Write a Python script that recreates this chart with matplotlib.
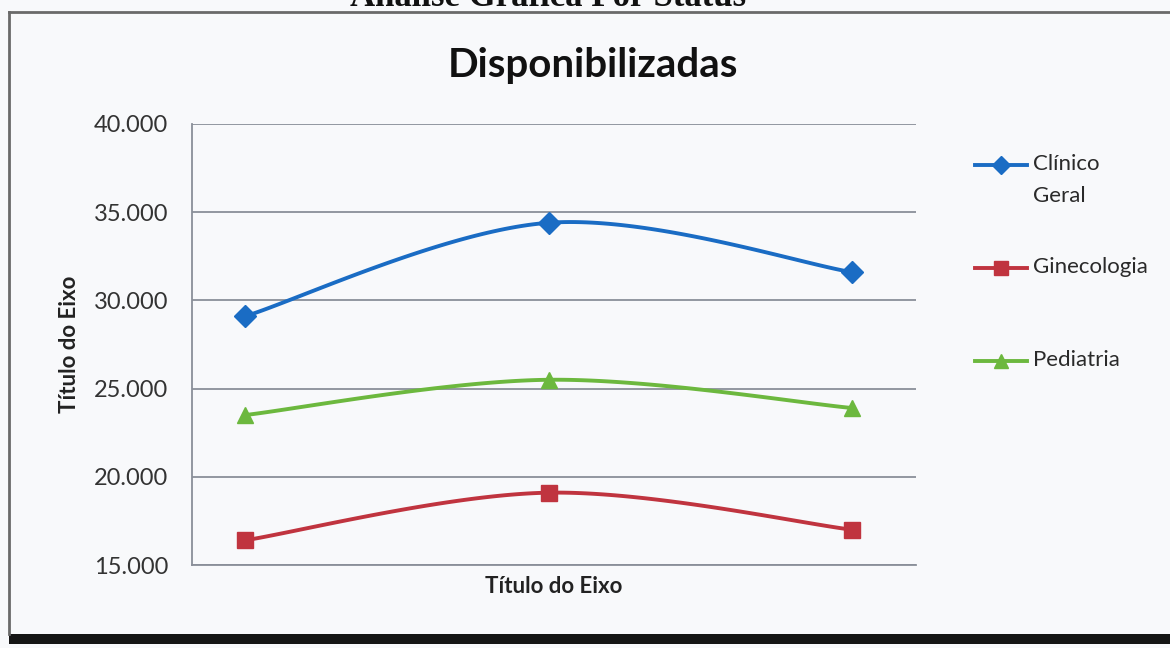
import numpy as np
import matplotlib
matplotlib.use("Agg")
import matplotlib.pyplot as plt
from matplotlib.lines import Line2D
from matplotlib.patches import Rectangle

# data
categorias = [1, 2, 3]
clinico_geral = [29100, 34400, 31600]
ginecologia = [16400, 19100, 17000]
pediatria = [23500, 25500, 23900]
y_ticks = [15000, 20000, 25000, 30000, 35000, 40000]
y_tick_labels = ["15.000", "20.000", "25.000", "30.000", "35.000", "40.000"]

W, H = 1170, 648
plt.rcParams['font.family'] = ['Lato', 'DejaVu Sans']


def smooth(xs, ys, n=60):
    # excel-like smoothed line (cubic bezier, catmull-rom control points)
    p = np.column_stack([xs, ys]).astype(float)
    pts = [p[0]]
    m = len(p)
    for i in range(m - 1):
        p_prev = p[max(i - 1, 0)]
        p_next2 = p[min(i + 2, m - 1)]
        c1 = p[i] + (p[i + 1] - p_prev) / 6
        c2 = p[i + 1] - (p_next2 - p[i]) / 6
        t = np.linspace(0, 1, n)[1:, None]
        seg = ((1 - t) ** 3) * p[i] + 3 * ((1 - t) ** 2) * t * c1 \
            + 3 * (1 - t) * t ** 2 * c2 + t ** 3 * p[i + 1]
        pts.extend(seg)
    pts = np.array(pts)
    return pts[:, 0], pts[:, 1]


def fx(px):
    return px / W


def fy(py):
    return 1 - py / H


fig = plt.figure(figsize=(W / 100, H / 100), dpi=100)
fig.patch.set_facecolor('#f8f9fb')

ax = fig.add_axes([fx(192), fy(565), (916 - 192) / W, (565 - 124) / H])
ax.set_facecolor('none')

series = [
    ("Clínico Geral", clinico_geral, '#1a6cc4', 'D', 11),
    ("Ginecologia", ginecologia, '#c0343f', 's', 12),
    ("Pediatria", pediatria, '#6cb83e', '^', 12),
]
for name, vals, col, mk, ms in series:
    sx, sy = smooth(categorias, vals)
    ax.plot(sx, sy, color=col, lw=2.8, solid_capstyle='round', zorder=3)
    ax.plot(categorias, vals, linestyle='none', marker=mk, markersize=ms,
            color=col, zorder=4)

ax.set_xlim(0.825, 3.211)
ax.set_ylim(15000, 40000)
ax.set_yticks(y_ticks)
ax.set_yticklabels(y_tick_labels)
ax.set_xticks([])
ax.tick_params(axis='y', length=0, pad=17, labelsize=17, labelcolor='#333333')
ax.grid(axis='y', color='#8a8f99', lw=1.3)
ax.set_axisbelow(True)
for s in ['top', 'right']:
    ax.spines[s].set_visible(False)
for s in ['left', 'bottom']:
    ax.spines[s].set_color('#8a8f99')
    ax.spines[s].set_linewidth(1.3)

ax.set_ylabel("Título do Eixo", fontsize=16, fontweight='bold', color='#222222',
              labelpad=10)
ax.set_xlabel("Título do Eixo", fontsize=16, fontweight='bold', color='#222222',
              labelpad=8)

fig.text(fx(593), fy(66), "Disponibilizadas", ha='center', va='center',
         fontsize=29, fontweight='bold', color='#111111')

# page heading, cut at the top of the scan
fig.text(fx(548), fy(6), "Análise Gráfica Por Status", ha='center', va='baseline',
         family='Liberation Serif', fontweight='bold', fontsize=25, color='#111111')

# chart frame with dark shadow at the bottom
fig.add_artist(Line2D([fx(9), 1], [fy(12), fy(12)], color='#6a6a6a', lw=2))
fig.add_artist(Line2D([fx(9), fx(9)], [fy(12), fy(634)], color='#6a6a6a', lw=2))
fig.add_artist(Rectangle((fx(9), fy(644)), 1, 10 / H, color='#151515', lw=0))

# legend drawn by hand so the handle sits on the first text line
legend_rows = [(165, "Clínico\nGeral"), (268, "Ginecologia"), (361, "Pediatria")]
for (py, label), (name, vals, col, mk, ms) in zip(legend_rows, series):
    fig.add_artist(Line2D([fx(975), fx(1027)], [fy(py), fy(py)], color=col, lw=2.8))
    fig.add_artist(Line2D([fx(1001)], [fy(py)], marker=mk, markersize=ms * 0.8,
                          color=col, linestyle='none'))
    fig.text(fx(1033), fy(py) + 11 / H, label, ha='left', va='top', fontsize=16,
             color='#2a2a2a', linespacing=1.75)

fig.savefig('out.png', dpi=100, facecolor=fig.get_facecolor())
